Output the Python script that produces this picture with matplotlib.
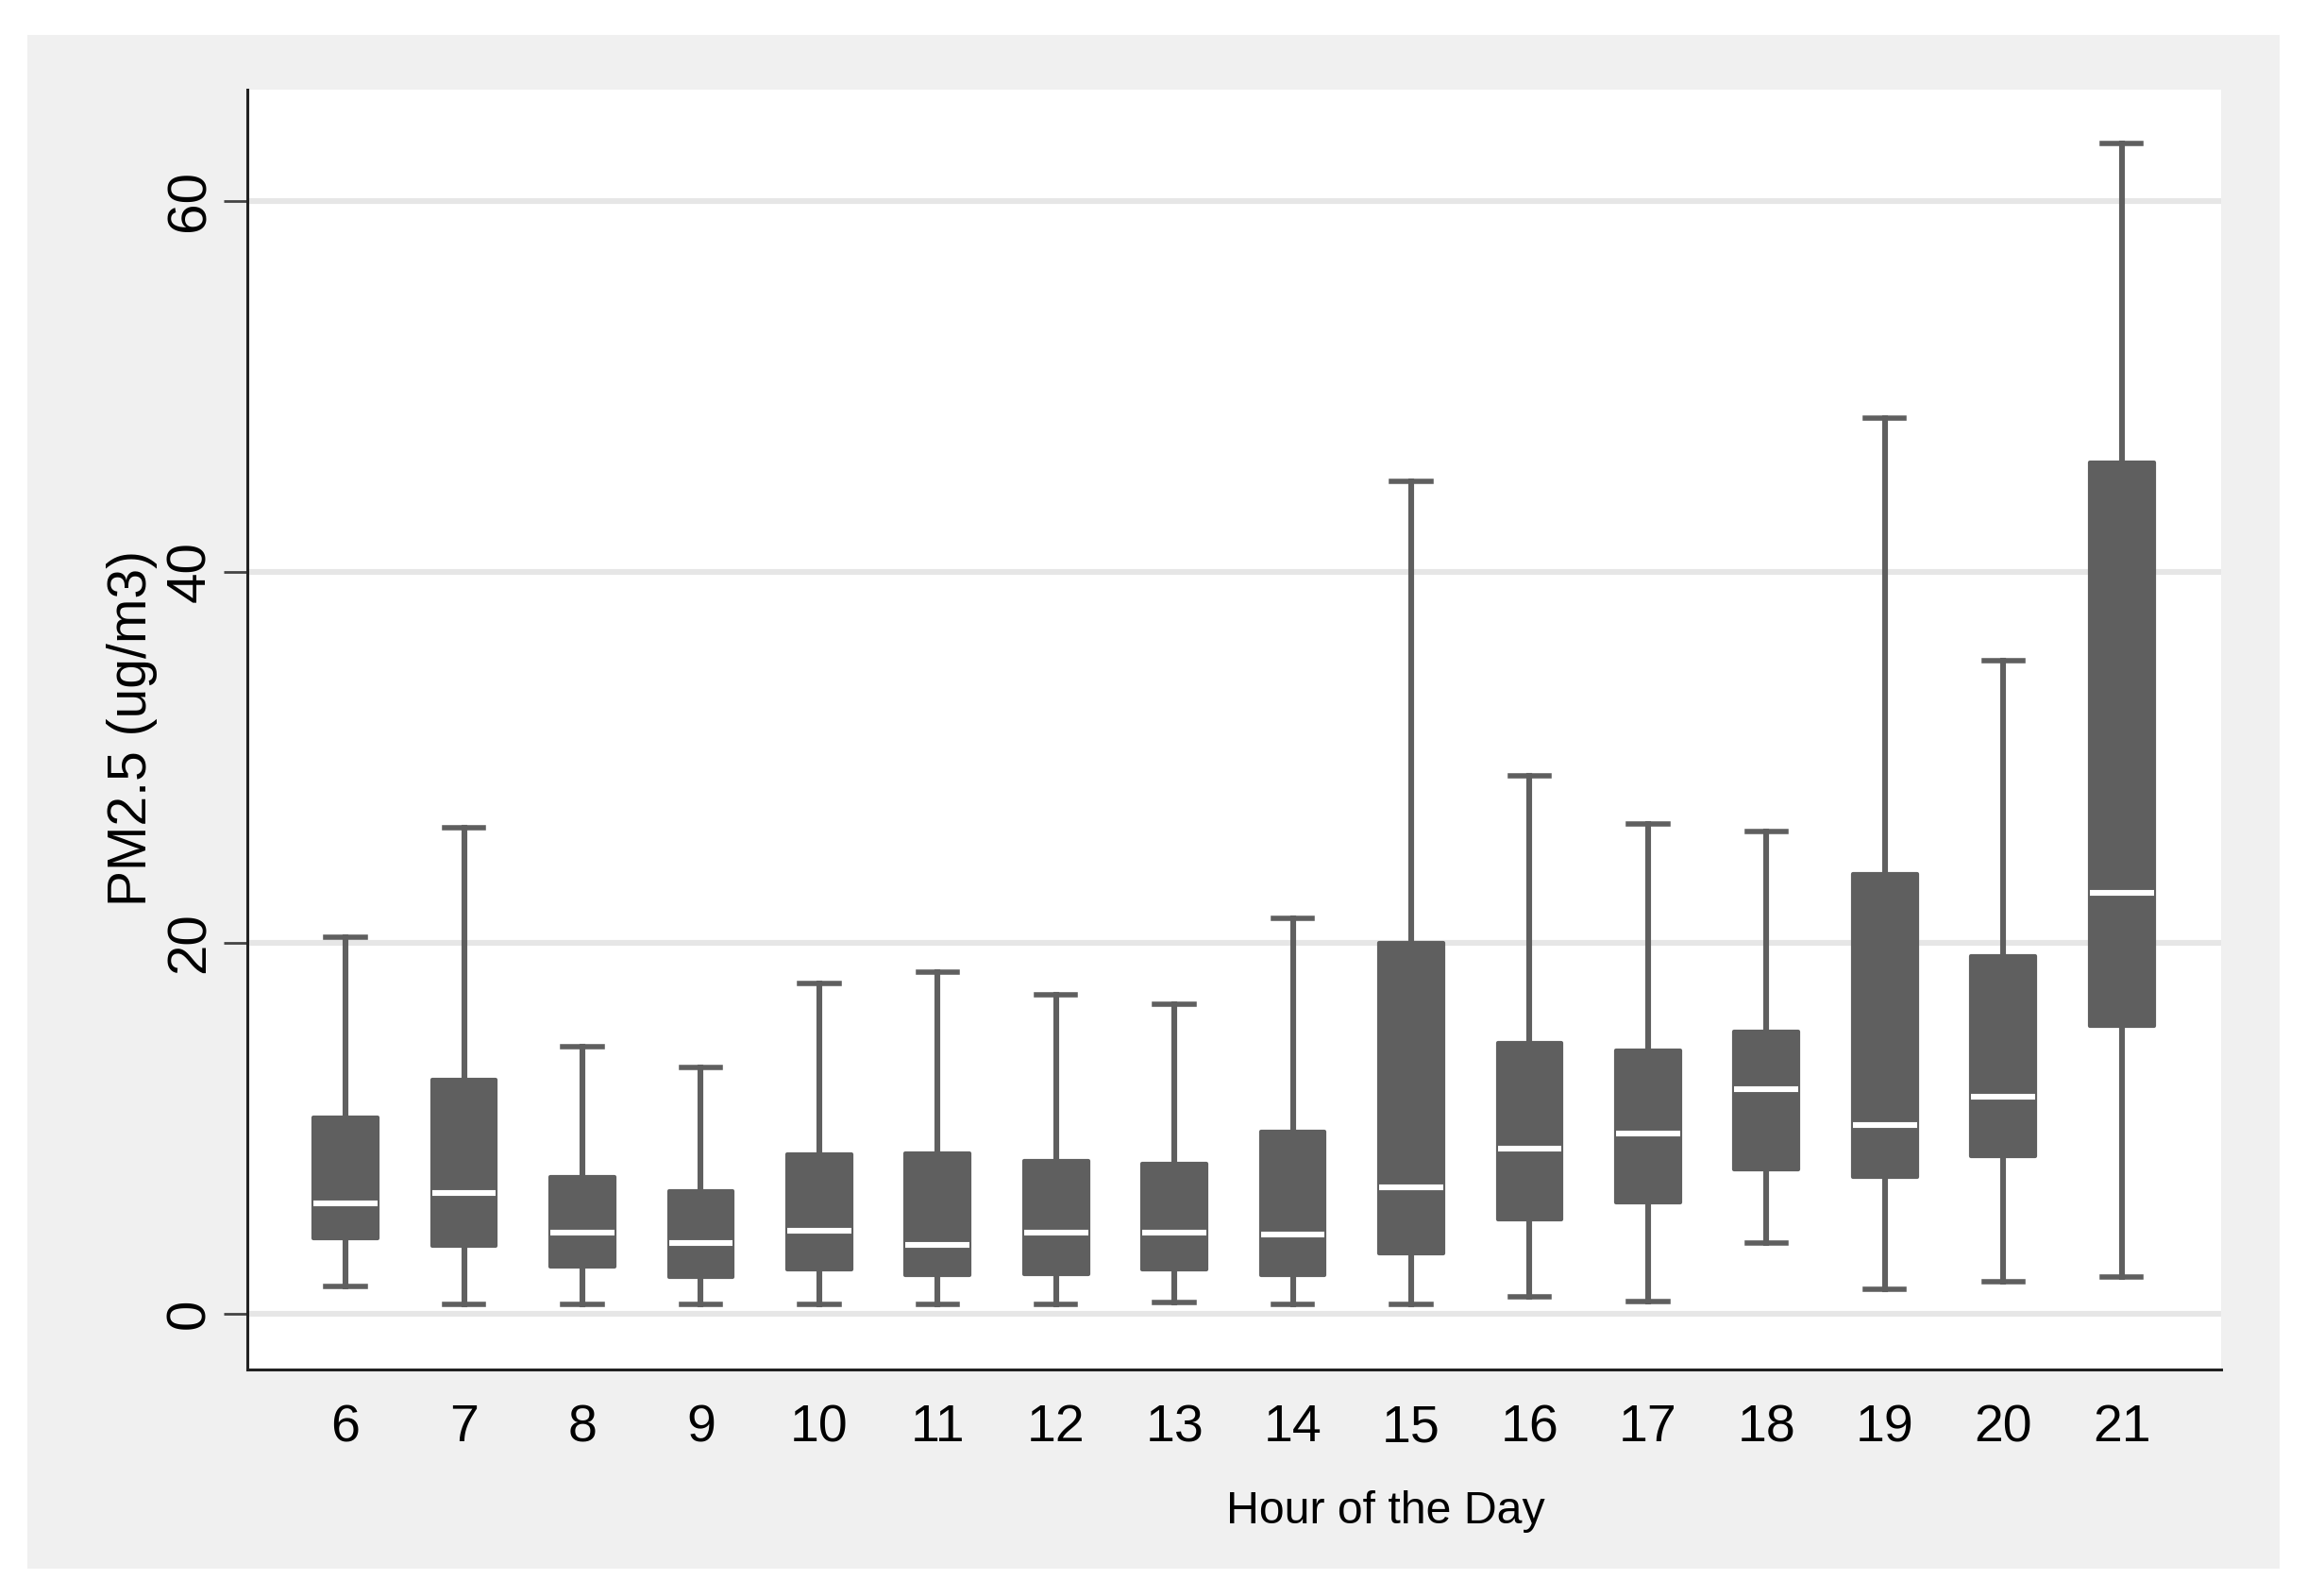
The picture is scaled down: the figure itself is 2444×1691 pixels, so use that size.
import numpy as np
import matplotlib
matplotlib.use("Agg")
import matplotlib.pyplot as plt
from matplotlib.patches import Rectangle

plt.rcParams["font.family"] = ["Liberation Sans", "DejaVu Sans"]

hours = [6, 7, 8, 9, 10, 11, 12, 13, 14, 15, 16, 17, 18, 19, 20, 21]
whis_lo = [1.5, 0.5, 0.5, 0.5, 0.5, 0.5, 0.5, 0.6, 0.5, 0.5, 0.9, 0.65, 3.8, 1.35, 1.75, 2.0]
q1 = [4.05, 3.65, 2.55, 2.0, 2.4, 2.1, 2.15, 2.4, 2.1, 3.25, 5.1, 6.0, 7.8, 7.4, 8.5, 15.5]
med = [5.95, 6.5, 4.4, 3.8, 4.5, 3.7, 4.4, 4.4, 4.3, 6.8, 8.9, 9.7, 12.1, 10.2, 11.7, 22.7]
q3 = [10.6, 12.6, 7.4, 6.6, 8.6, 8.65, 8.25, 8.1, 9.8, 20.0, 14.6, 14.2, 15.2, 23.7, 19.3, 45.9]
whis_hi = [20.3, 26.2, 14.4, 13.3, 17.8, 18.4, 17.2, 16.7, 21.3, 44.9, 29.0, 26.4, 26.0, 48.3, 35.2, 63.1]
yticks = [0, 20, 40, 60]

box_col = "#5f5f5f"

fig = plt.figure(figsize=(12.22, 8.455), dpi=200)
fig.patch.set_facecolor("white")
# light gray graph region, kept behind the axes
fig.patches.append(Rectangle((29 / 2444, 1 - 1662 / 1691), (2415 - 29) / 2444, (1662 - 37) / 1691,
                             transform=fig.transFigure, facecolor="#f0f0f0", edgecolor="none", zorder=-10))

ax = fig.add_axes([262 / 2444, 1 - 1451 / 1691, (2353 - 262) / 2444, (1451 - 95) / 1691])
ax.set_facecolor("white")

stats = []
for h, lo, a, m, b, hi in zip(hours, whis_lo, q1, med, q3, whis_hi):
    stats.append({"whislo": lo, "q1": a, "med": m, "q3": b, "whishi": hi, "fliers": [], "label": str(h)})

ax.bxp(stats, positions=hours, widths=0.54, patch_artist=True, showfliers=False,
       boxprops=dict(facecolor=box_col, edgecolor=box_col, linewidth=1.5, joinstyle="round"),
       medianprops=dict(color="white", linewidth=2.2, solid_capstyle="butt"),
       whiskerprops=dict(color=box_col, linewidth=2.2),
       capprops=dict(color=box_col, linewidth=2.0),
       capwidths=0.33, zorder=3)

ax.set_xlim(5.17, 21.84)
ax.set_ylim(-3, 66)
ax.set_yticks(yticks)
ax.set_yticklabels([str(t) for t in yticks], rotation=90, va="center", fontsize=21)
ax.set_xticks(hours)
ax.set_xticklabels([str(h) for h in hours], fontsize=20)
ax.tick_params(axis="x", length=0, pad=13)
ax.tick_params(axis="y", length=9, width=1.0, color="#444444", pad=3)
ax.grid(axis="y", color="#e6e6e6", linewidth=2.2, zorder=0)
ax.set_axisbelow(True)
for s in ["top", "right"]:
    ax.spines[s].set_visible(False)
for s in ["left", "bottom"]:
    ax.spines[s].set_color("#222222")
    ax.spines[s].set_linewidth(1.1)

fig.text(140 / 2444, 1 - 772 / 1691, "PM2.5 (ug/m3)", fontsize=20.5, rotation=90,
         ha="center", va="center")
fig.text(1468 / 2444, 1 - 1602 / 1691, "Hour of the Day", fontsize=17.4, ha="center", va="center")

fig.savefig("out.png", dpi=200)
